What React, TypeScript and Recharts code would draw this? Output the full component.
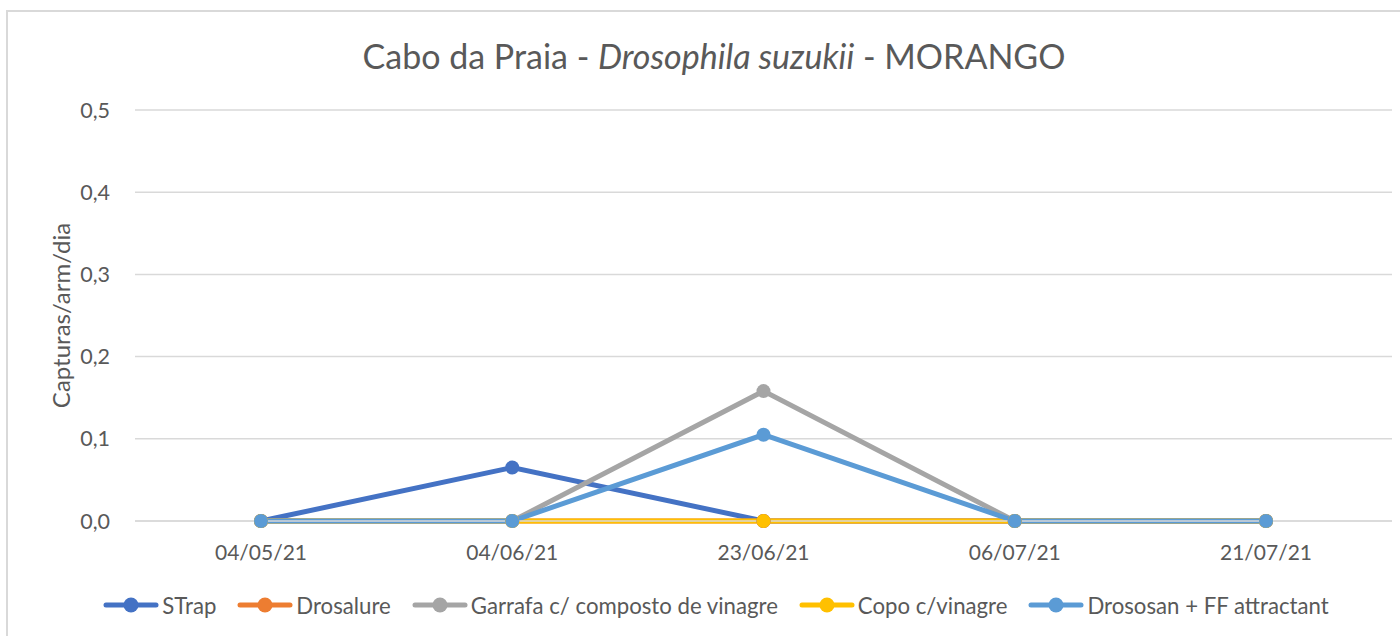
import React from 'react';
import { LineChart, Line, XAxis, YAxis, CartesianGrid, Legend } from 'recharts';

const categories = ['04/05/21', '04/06/21', '23/06/21', '06/07/21', '21/07/21'];
const strap = [0, 0.065, 0, 0, 0];
const drosalure = [0, 0, 0, 0, 0];
const garrafa = [0, 0, 0.158, 0, 0];
const copo = [0, 0, 0, 0, 0];
const drososan = [0, 0, 0.105, 0, 0];
const yTicks = [0, 0.1, 0.2, 0.3, 0.4, 0.5];

const seriesInfo = [
  { key: 'strap', name: 'STrap', color: '#4472C4', values: strap },
  { key: 'drosalure', name: 'Drosalure', color: '#ED7D31', values: drosalure },
  { key: 'garrafa', name: 'Garrafa c/ composto de vinagre', color: '#A5A5A5', values: garrafa },
  { key: 'copo', name: 'Copo c/vinagre', color: '#FFC000', values: copo },
  { key: 'drososan', name: 'Drososan + FF attractant', color: '#5B9BD5', values: drososan },
];

const data = categories.map((c, i) => {
  const row: Record<string, any> = { date: c };
  seriesInfo.forEach((s) => {
    row[s.key] = s.values[i];
  });
  return row;
});

const FONT = 'Lato, "Open Sans", sans-serif';
const TXT = '#595959';

const LegendContent = () => (
  <div
    style={{
      height: 30,
      display: 'flex',
      justifyContent: 'center',
      alignItems: 'center',
      fontFamily: FONT,
      fontSize: 22.2,
      color: TXT,
      paddingLeft: 40,
    }}
  >
    {seriesInfo.map((s, i) => (
      <div
        key={s.key}
        style={{ display: 'flex', alignItems: 'center', marginRight: i === seriesInfo.length - 1 ? 0 : 21 }}
      >
        <svg width={56} height={18} style={{ marginRight: 3 }}>
          <line x1={3} y1={9} x2={53} y2={9} stroke={s.color} strokeWidth={5} strokeLinecap="round" />
          <circle cx={28} cy={9} r={7.5} fill={s.color} />
        </svg>
        <span>{s.name}</span>
      </div>
    ))}
  </div>
);

const YLabel = (props: any) => {
  const vb = props.viewBox || {};
  const cy = vb.y + vb.height / 2;
  return (
    <text
      x={60}
      y={cy}
      transform={`rotate(-90, 60, ${cy})`}
      textAnchor="middle"
      dominantBaseline="central"
      fill={TXT}
      fontSize={24}
      fontFamily={FONT}
    >
      Capturas/arm/dia
    </text>
  );
};

export default function App() {
  return (
    <div style={{ position: 'fixed', left: 0, top: 0, width: 1400, height: 636, background: '#fff', overflow: 'hidden' }}>
      <div
        style={{
          position: 'absolute',
          left: 0,
          top: 34,
          width: 1428,
          textAlign: 'center',
          fontFamily: FONT,
          fontSize: 34,
          color: TXT,
          lineHeight: '44px',
        }}
      >
        Cabo da Praia - <i>Drosophila suzukii</i> - MORANGO
      </div>
      <div style={{ position: 'absolute', left: 0, top: 0 }}>
        <LineChart width={1400} height={636} data={data} margin={{ top: 110, right: 8, bottom: 16, left: 0 }}>
          <CartesianGrid vertical={false} stroke="#D9D9D9" strokeWidth={1.5} />
          <XAxis
            dataKey="date"
            height={69}
            padding={{ left: 126, right: 126 }}
            axisLine={{ stroke: '#D9D9D9', strokeWidth: 1.5 }}
            tickLine={false}
            tick={{ fill: TXT, fontSize: 21, fontFamily: FONT }}
            tickMargin={18}
          />
          <YAxis
            width={135}
            domain={[0, 0.5]}
            ticks={yTicks}
            axisLine={false}
            tickLine={false}
            tick={{ fill: TXT, fontSize: 21.5, fontFamily: FONT }}
            tickMargin={19}
            tickFormatter={(v: number) => v.toFixed(1).replace('.', ',')}
            label={<YLabel />}
          />
          <Legend verticalAlign="bottom" content={<LegendContent />} />
          {seriesInfo.map((s) => (
            <Line
              key={s.key}
              type="linear"
              dataKey={s.key}
              name={s.name}
              stroke={s.color}
              strokeWidth={5}
              dot={{ r: 7, fill: s.color, stroke: s.color, strokeWidth: 0 }}
              activeDot={false}
              isAnimationActive={false}
            />
          ))}
        </LineChart>
      </div>
      <div
        style={{
          position: 'absolute',
          left: 6,
          top: 10,
          width: 1420,
          height: 660,
          border: '2px solid #D9D9D9',
          pointerEvents: 'none',
        }}
      />
    </div>
  );
}
